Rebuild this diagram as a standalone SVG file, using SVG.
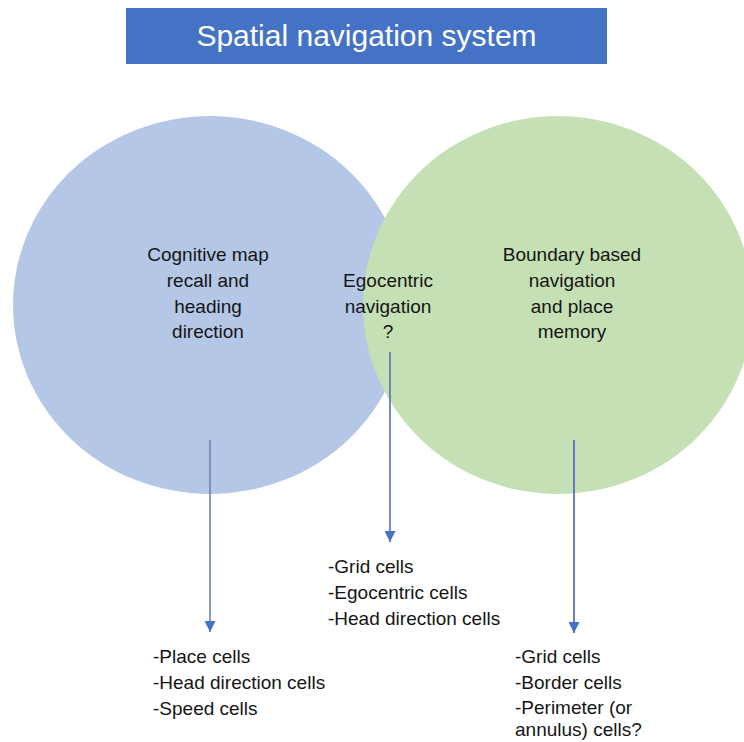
<svg xmlns="http://www.w3.org/2000/svg" width="744" height="742" viewBox="0 0 744 742">
<style>
.t{font-family:"Liberation Sans",Arial,sans-serif;font-size:19px;fill:#151515}
.c{text-anchor:middle}
.title{font-family:"Liberation Sans",Arial,sans-serif;font-size:30px;fill:#ffffff;text-anchor:middle}
.conn{fill:none;stroke-width:1.6}
</style>
<defs>
<marker id="ah" viewBox="0 0 10 10" refX="10" refY="5" markerWidth="11" markerHeight="11" markerUnits="userSpaceOnUse" orient="auto">
<path d="M0,0 L10,5 L0,10 z" fill="#4472C4"/>
</marker>
</defs>
<rect width="744" height="742" fill="#ffffff"/>
<g id="title">
<rect x="126" y="8" width="481" height="56" fill="#4472C4"/>
<text class="title" x="366.5" y="46">Spatial navigation system</text>
</g>
<g id="cognitive">
<ellipse cx="210" cy="305" rx="197" ry="189" fill="#B4C7E7"/>
</g>
<g id="boundary">
<ellipse cx="558" cy="305" rx="195" ry="189" fill="#C5E0B4"/>
</g>
<g id="cognitive-label">
<text class="t c" x="208" y="261">Cognitive map</text>
<text class="t c" x="208" y="287">recall and</text>
<text class="t c" x="208" y="313">heading</text>
<text class="t c" x="208" y="338">direction</text>
</g>
<g id="egocentric">
<text class="t c" x="388" y="287">Egocentric</text>
<text class="t c" x="388" y="313">navigation</text>
<text class="t c" x="388" y="338">?</text>
</g>
<g id="boundary-label">
<text class="t c" x="572" y="261">Boundary based</text>
<text class="t c" x="572" y="287">navigation</text>
<text class="t c" x="572" y="313">and place</text>
<text class="t c" x="572" y="338">memory</text>
</g>
<g id="connectors">
<line class="conn" x1="210" y1="440" x2="210" y2="632" stroke="#6F80AA" marker-end="url(#ah)"/>
<line class="conn" x1="390" y1="352" x2="390" y2="542" stroke="#5570A8" marker-end="url(#ah)"/>
<line class="conn" x1="574" y1="440" x2="574" y2="633" stroke="#4A5EC2" stroke-width="2.2" marker-end="url(#ah)"/>
</g>
<g id="list-left">
<text class="t" x="153" y="663">-Place cells</text>
<text class="t" x="153" y="689">-Head direction cells</text>
<text class="t" x="153" y="715">-Speed cells</text>
</g>
<g id="list-middle">
<text class="t" x="328" y="573">-Grid cells</text>
<text class="t" x="328" y="599">-Egocentric cells</text>
<text class="t" x="328" y="625">-Head direction cells</text>
</g>
<g id="list-right">
<text class="t" x="515" y="663">-Grid cells</text>
<text class="t" x="515" y="689">-Border cells</text>
<text class="t" x="515" y="714">-Perimeter (or</text>
<text class="t" x="515" y="736">annulus) cells?</text>
</g>
</svg>
